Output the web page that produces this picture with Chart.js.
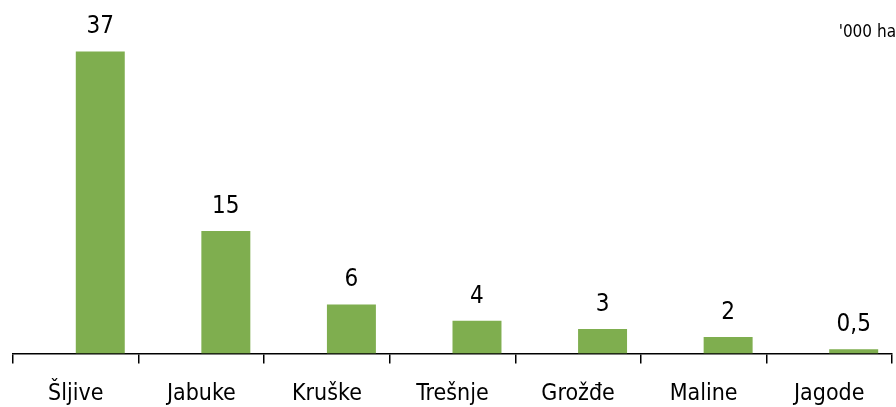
<!DOCTYPE html>
<html>
<head>
<meta charset="utf-8">
<script src="https://cdn.jsdelivr.net/npm/chart.js@4/dist/chart.umd.min.js"></script>
<style>
  html, body { margin: 0; padding: 0; background: #fff; }
  #wrap { position: relative; width: 896px; height: 407px; }
</style>
</head>
<body>
<div id="wrap"><canvas id="c" width="896" height="407"></canvas></div>
<script>
// Fruit areas, thousand hectares
const categories = ['Šljive', 'Jabuke', 'Kruške', 'Trešnje', 'Grožđe', 'Maline', 'Jagode'];
const areaValues = [37, 15, 6, 4, 3, 2, 0.5];
const unitLabel = "'000 ha";

const FONT = '"Liberation Sans Narrow", "DejaVu Sans Condensed", "Arial Narrow", sans-serif';

// Writes each value above its bar (decimal comma), the category names
// under the axis and the unit caption
const chartTexts = {
  id: 'chartTexts',
  afterDraw(chart) {
    const ctx = chart.ctx;
    const meta = chart.getDatasetMeta(1);
    const xScale = chart.scales.x;
    ctx.save();
    ctx.fillStyle = '#000';
    ctx.textBaseline = 'alphabetic';
    ctx.textAlign = 'center';

    ctx.font = '24px ' + FONT;
    meta.data.forEach((bar, i) => {
      const txt = String(areaValues[i]).replace('.', ',');
      ctx.fillText(txt, bar.x, bar.y - 18);
    });

    ctx.font = '23px ' + FONT;
    const labelBaseline = chart.chartArea.bottom + 47;
    categories.forEach((name, i) => {
      ctx.fillText(name, xScale.getPixelForTick(i), labelBaseline);
    });

    ctx.font = '17px ' + FONT;
    ctx.textAlign = 'right';
    ctx.fillText(unitLabel, 896, 37);
    ctx.restore();
  }
};

new Chart(document.getElementById('c'), {
  type: 'bar',
  data: {
    labels: categories,
    datasets: [
      // empty companion series keeps the left slot of each group
      { label: '', data: [], backgroundColor: 'rgba(0,0,0,0)' },
      {
        label: unitLabel,
        data: areaValues,
        backgroundColor: '#7fae4f',
        borderWidth: 0
      }
    ]
  },
  options: {
    responsive: false,
    animation: false,
    datasets: { bar: { barPercentage: 1.0, categoryPercentage: 0.78 } },
    layout: { padding: { left: 13, right: 4, top: 27, bottom: 0 } },
    plugins: { legend: { display: false }, tooltip: { enabled: false } },
    scales: {
      y: {
        display: false,
        min: 0,
        max: 40
      },
      x: {
        offset: true,
        border: { display: true, color: '#000', width: 1.5 },
        grid: {
          offset: true,
          drawOnChartArea: false,
          drawTicks: true,
          tickLength: 10,
          color: '#000',
          lineWidth: 1.5
        },
        ticks: {
          color: 'rgba(0,0,0,0)',
          font: { family: FONT, size: 23 },
          padding: 8,
          maxRotation: 0
        }
      }
    }
  },
  plugins: [chartTexts]
});
</script>
</body>
</html>
